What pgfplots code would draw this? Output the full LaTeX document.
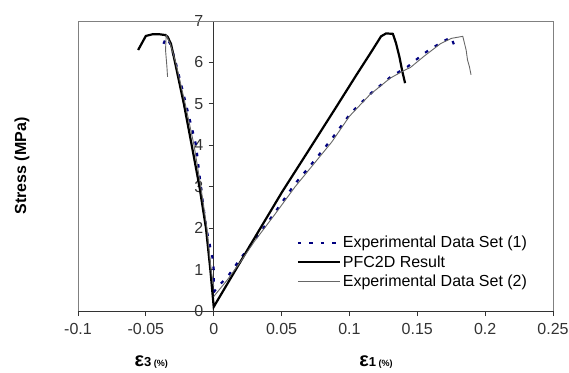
\documentclass[border=0pt]{standalone}
\usepackage{pgfplots}
\pgfplotsset{compat=1.18}
\usepackage{fontspec}
\setmainfont{Liberation Sans}
\definecolor{navyb}{RGB}{0,0,128}
\definecolor{framegray}{RGB}{128,128,128}
\begin{document}
\begin{tikzpicture}
\useasboundingbox (-78pt,-61pt) rectangle (491pt,311pt);
\begin{axis}[
  scale only axis, width=475pt, height=290pt,
  xmin=-0.1, xmax=0.25, ymin=0, ymax=7,
  axis x line=bottom, axis y line=middle,
  axis line style={-, black!80, line width=0.8pt},
  xtick={-0.1,-0.05,0,0.05,0.1,0.15,0.2,0.25},
  xticklabels={-0.1,-0.05,0,0.05,0.1,0.15,0.2,0.25},
  ytick={0,1,...,7},
  yticklabels={0,1,2,3,4,5,6,7},
  tick align=outside, major tick length=5pt,
  tick style={black!80, line width=0.8pt},
  every tick label/.append style={font=\fontsize{16}{18}\selectfont, text=black!80},
  xticklabel style={yshift=-4pt},
  yticklabel style={xshift=-2pt},
  /pgf/number format/assume math mode=true,
  unbounded coords=jump,
  clip=false,
  legend style={draw=none, fill=none, at={(0.46,0.265)}, anchor=north west,
    font=\fontsize{16}{18}\selectfont, row sep=2pt, inner sep=0pt,
    cells={anchor=west}},
  legend cell align=left,
  legend image code/.code={\draw[#1] (0pt,0pt) -- (42pt,0pt);},
]
\draw[framegray, line width=0.8pt] (rel axis cs:0,0) -- (rel axis cs:0,1) -- (rel axis cs:1,1) -- (rel axis cs:1,0);
\addplot[navyb, line width=2.2pt, dash pattern=on 3.5pt off 8pt] coordinates {
(-0.037,6.45) (-0.035,6.6) (-0.032,6.45) (-0.028,6.0) (-0.0205,5.0) (-0.013,4.0) (-0.0095,3.0) (-0.0055,2.0) (-0.001,1.3) (0,1.0) (0,0.45)
(nan,nan)
(0,0.45) (0.003,0.59) (0.0103,0.83) (0.0189,1.23) (0.030,1.71) (0.0447,2.36) (0.0594,3.05) (0.0717,3.53) (0.0864,4.13) (0.101,4.78) (0.116,5.26) (0.1307,5.66) (0.143,5.9) (0.155,6.22) (0.1675,6.48) (0.175,6.61) (0.177,6.43)
};
\addlegendentry{Experimental Data Set (1)}
\addplot[black, line width=2.2pt] coordinates {
(-0.0557,6.30) (-0.050,6.64) (-0.045,6.68) (-0.040,6.68) (-0.0355,6.66) (-0.034,6.62) (-0.0315,6.45) (-0.0285,6.0) (-0.022,5.0) (-0.0162,4.0) (-0.0105,3.0) (-0.0057,2.0) (-0.0025,1.0) (0,0.1)
(0.0262,1.55) (0.0505,2.88) (0.07,3.88) (0.09,4.91) (0.105,5.69) (0.116,6.25) (0.1233,6.63) (0.127,6.70) (0.132,6.69) (0.1343,6.47) (0.1368,6.14) (0.139,5.78) (0.141,5.5)
};
\addlegendentry{PFC2D Result}
\addplot[black!60, line width=0.9pt] coordinates {
(-0.034,5.65) (-0.0345,5.9) (-0.0355,6.3) (-0.035,6.66) (-0.032,6.45) (-0.028,6.0) (-0.021,5.0) (-0.0145,4.0) (-0.0095,3.0) (-0.005,2.0) (-0.002,1.0) (0,0.6)
(nan,nan)
(0,0.35) (0.01,0.75) (0.02,1.2) (0.03,1.68) (0.045,2.33) (0.06,3.0) (0.072,3.48) (0.087,4.08) (0.1,4.7) (0.115,5.22) (0.13,5.62) (0.14,5.8) (0.145,5.88) (0.155,6.15) (0.167,6.45) (0.175,6.58) (0.1835,6.63) (0.186,6.3) (0.187,6.06) (0.1884,5.9) (0.1896,5.7)
};
\addlegendentry{Experimental Data Set (2)}
\node[font=\fontsize{16}{18}\selectfont, text=black!80, anchor=east] at ([xshift=-7pt]axis cs:0,0) {0};
\node[font=\bfseries, anchor=center] at ([yshift=-51pt]axis cs:-0.046,0) {{\fontsize{20}{20}\selectfont ε}{\fontsize{13}{13}\selectfont 3}{\fontsize{9}{9}\selectfont\ (\%)}};
\node[font=\bfseries, anchor=center] at ([yshift=-51pt]axis cs:0.1195,0) {{\fontsize{20}{20}\selectfont ε}{\fontsize{13}{13}\selectfont 1}{\fontsize{9}{9}\selectfont\ (\%)}};
\node[font=\bfseries\fontsize{16}{18}\selectfont, rotate=90, anchor=center] at ([xshift=-56pt]rel axis cs:0,0.5) {Stress (MPa)};
\end{axis}
\end{tikzpicture}
\end{document}
